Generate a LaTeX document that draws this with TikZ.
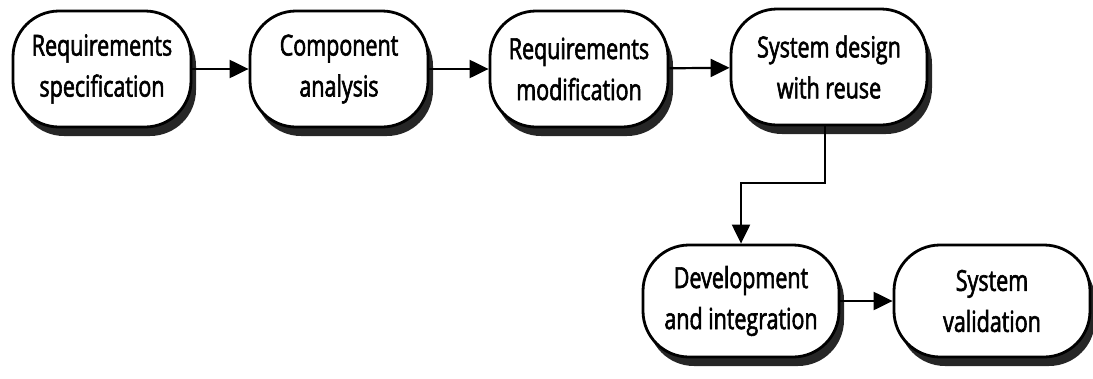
\documentclass[tikz,border=0pt]{standalone}
\usepackage{fontspec}
\setmainfont{Open Sans}[FakeStretch=0.74,FakeBold=2]
\usetikzlibrary{arrows.meta,shadows}
\begin{document}
\begin{tikzpicture}[x=1pt,y=-1pt,
  stage/.style={draw=black, line width=2.8pt, fill=white, rounded corners=46pt,
    minimum height=116pt, align=center, inner sep=0pt,
    font=\fontsize{29}{41}\selectfont,
    drop shadow={shadow xshift=5pt, shadow yshift=-9pt, fill=black!85, opacity=1}},
  arr/.style={line width=2.2pt, -{Triangle[length=19pt,width=18pt]}}]
\useasboundingbox (0,0) rectangle (1093,378);
\node[stage, minimum width=178pt] (n1) at (102,69) {Requirements\\specification};
\node[stage, minimum width=178pt] (n2) at (339,69) {Component\\analysis};
\node[stage, minimum width=178pt] (n3) at (579,69) {Requirements\\modification};
\node[stage, minimum width=196pt] (n4) at (829,67) {System design\\with reuse};
\node[stage, minimum width=196pt, minimum height=112pt] (n5) at (741,301) {Development\\and integration};
\node[stage, minimum width=196pt, minimum height=112pt] (n6) at (992,301) {System\\validation};
\draw[arr] (n1) -- (n2);
\draw[arr] (n2) -- (n3);
\draw[arr] (n3) -- (n4);
\coordinate (bend) at (825,183);
\draw[arr] (n4.south -| bend) -- (bend) -| (n5.north);
\draw[arr] (n5) -- (n6);
\end{tikzpicture}
\end{document}
